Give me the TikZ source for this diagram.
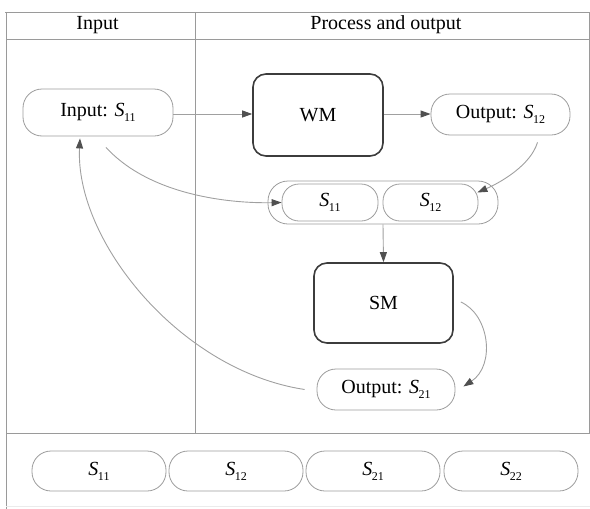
\documentclass[tikz,border=0pt]{standalone}
\usepackage{fontspec}
\setmainfont{Liberation Serif}
\usetikzlibrary{arrows.meta,calc}
\newcommand{\Sx}[1]{{\itshape S}\kern-0.5pt\raisebox{-5pt}{\fontsize{12}{12}\selectfont #1}}
\definecolor{framec}{HTML}{9A9A9A}
\definecolor{boxc}{HTML}{9C9C9C}
\definecolor{linec}{HTML}{A0A0A0}
\definecolor{tipc}{HTML}{505050}
\definecolor{darkc}{HTML}{3C3C3C}
\tikzset{
  frameline/.style={draw=framec, line width=0.8pt},
  pill/.style={draw=boxc, line width=0.8pt, rounded corners=19pt, inner sep=0pt,
    font=\fontsize{20}{22}\selectfont},
  proc/.style={draw=darkc, line width=1.6pt, rounded corners=13pt, inner sep=0pt,
    font=\fontsize{20}{22}\selectfont},
  hdr/.style={font=\fontsize{20}{22}\selectfont, inner sep=0pt},
  conn/.style={draw=linec, line width=0.9pt, -{Triangle[length=10pt,width=7pt,color=tipc]}},
}
\begin{document}
\begin{tikzpicture}[x=1pt,y=-1pt]
\useasboundingbox (0,0) rectangle (590,509);
% frame
\draw[frameline] (5,12) -- (590,12);
\draw[frameline] (6,12) -- (6,509);
\draw[frameline] (6,39) -- (590,39);
\draw[frameline] (195,12) -- (195,433);
\draw[frameline] (6,433) -- (590,433);
\draw[frameline] (589,12) -- (589,433);
\draw[draw=black!8, line width=0.6pt] (6,506) -- (590,506);
% headers
\node[hdr] (hin) at (97.5,25) {Input};
\node[hdr] (hpo) at (386,25) {Process and output};
% main nodes
\node[pill, minimum width=150pt, minimum height=47pt] (inS) at (98,112.5) {Input: \Sx{11}};
\node[proc, minimum width=130pt, minimum height=82pt] (wm) at (318,115) {WM};
\node[pill, minimum width=139pt, minimum height=41pt] (outA) at (500.5,114.5) {Output: \Sx{12}};
\node[pill, minimum width=230pt, minimum height=43pt, rounded corners=20pt] (cont) at (383,202.5) {};
\node[pill, minimum width=96pt, minimum height=37pt, rounded corners=17pt] (c11) at (330,202.5) {\Sx{11}};
\node[pill, minimum width=95pt, minimum height=37pt, rounded corners=17pt] (c12) at (430.5,202.5) {\Sx{12}};
\node[proc, minimum width=139pt, minimum height=80pt] (sm) at (383.5,303) {SM};
\node[pill, minimum width=138pt, minimum height=41pt] (outB) at (386,389.5) {Output: \Sx{21}};
% bottom row
\node[pill, minimum width=134pt, minimum height=40pt] (b11) at (99,471) {\Sx{11}};
\node[pill, minimum width=134pt, minimum height=40pt] (b12) at (236,471) {\Sx{12}};
\node[pill, minimum width=134pt, minimum height=40pt] (b21) at (373,471) {\Sx{21}};
\node[pill, minimum width=134pt, minimum height=40pt] (b22) at (511,471) {\Sx{22}};
% connectors
\draw[conn] (inS.east |- 0,114) -- (wm.west |- 0,114);
\draw[conn] (wm.east |- 0,114) -- (outA.west |- 0,114);
\draw[conn] ([shift={(8,11)}]inS.south) .. controls +(44,48) and +(-52,1) .. (c11.west);
\draw[conn] ([shift={(37,7)}]outA.south) .. controls +(-7,23) and +(23,-10) .. ([shift={(-1,-10)}]c12.east);
\draw[conn] (cont.south) -- (sm.north);
\draw[conn] ([shift={(7,-1)}]sm.east) .. controls +(29,13) and +(32,-21) .. ([shift={(8,-3)}]outB.east);
\draw[conn] ([shift={(-12,0)}]outB.west) .. controls +(-125,-19) and +(-5,102) .. ([shift={(-18,2)}]inS.south);
\end{tikzpicture}
\end{document}
